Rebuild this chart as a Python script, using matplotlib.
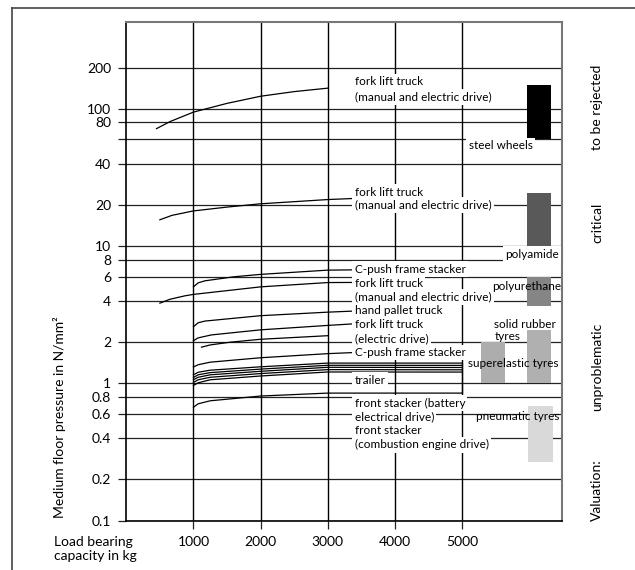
import matplotlib.pyplot as plt
from matplotlib.lines import Line2D
from matplotlib.ticker import FixedLocator, NullLocator

plt.rcParams['font.family'] = ['Lato', 'DejaVu Sans']

# axis ticks
y_ticks = [0.1, 0.2, 0.4, 0.6, 0.8, 1, 2, 4, 6, 8, 10, 20, 40, 60, 80, 100, 200]
y_labels = ['0.1', '0.2', '0.4', '0.6', '0.8', '1', '2', '4', '6', '8',
            '10', '20', '40', '', '80', '100', '200']
x_ticks = [1000, 2000, 3000, 4000, 5000]
x_labels = ['1000', '2000', '3000', '4000', '5000']

# curves: load bearing capacity (kg) -> floor pressure (N/mm2)
fork_top_x = [450, 650, 1000, 1500, 2000, 2500, 3000]
fork_top_y = [72, 81, 95, 110, 124, 134, 142]
fork_mid_x = [500, 680, 1000, 1500, 2000, 3000, 3380]
fork_mid_y = [15.6, 16.8, 18.1, 19.3, 20.4, 21.9, 22.3]
cpush_x = [1000, 1070, 1170, 1600, 2000, 3000, 3380]
cpush_y = [5.06, 5.41, 5.60, 5.99, 6.24, 6.70, 6.73]
fork_low_x = [500, 650, 870, 1000, 2000, 3000, 3380]
fork_low_y = [3.85, 4.11, 4.35, 4.46, 5.06, 5.44, 5.45]
pallet_x = [1000, 1070, 1170, 2000, 3000, 3380]
pallet_y = [2.59, 2.77, 2.85, 3.12, 3.31, 3.37]
fork_el_x = [1000, 1070, 1270, 2000, 3000, 3380]
fork_el_y = [2.05, 2.15, 2.26, 2.46, 2.65, 2.72]
fork_el2_x = [1120, 1250, 1550, 2000, 3000]
fork_el2_y = [1.84, 1.91, 2.00, 2.10, 2.23]
cpush2_x = [1000, 1070, 1250, 2000, 3000, 3380]
cpush2_y = [1.32, 1.37, 1.43, 1.54, 1.65, 1.68]
trailer_x = [1000, 1070, 1250, 2000, 3000, 5000]
trailer_y = [
    [1.157, 1.207, 1.25, 1.323, 1.408, 1.408],
    [1.106, 1.157, 1.20, 1.273, 1.357, 1.355],
    [1.064, 1.110, 1.157, 1.227, 1.312, 1.308],
    [1.017, 1.064, 1.11, 1.181, 1.262, 1.258],
    [0.967, 1.012, 1.064, 1.134, 1.213, 1.211],
]
front_x = [1000, 1070, 1250, 2000, 3000, 5000]
front_y = [0.671, 0.711, 0.748, 0.81, 0.851, 0.851]

# curve labels
label_x = 3400
top_labels = ['fork lift truck', '(manual and electric drive)',
              'fork lift truck', '(manual and electric drive)']
top_labels_y = [158, 123, 24.8, 19.9]
stack_labels = ['C-push frame stacker', 'fork lift truck', '(manual and electric drive)',
                'hand pallet truck', 'fork lift truck', '(electric drive)',
                'C-push frame stacker', 'trailer', 'front stacker (battery',
                'electrical drive)', 'front stacker', '(combustion engine drive)']
stack_labels_y = [6.81, 5.35, 4.28, 3.38, 2.69, 2.12, 1.68, 1.06, 0.72, 0.575, 0.452, 0.358]

# wheel material bars
bar_names = ['steel', 'polyamide', 'polyurethane', 'solid rubber', 'superelastic', 'pneumatic']
bar_left = [5970, 5970, 5970, 5970, 5290, 5990]
bar_right = [6330, 6330, 6330, 6330, 5640, 6350]
bar_low = [60, 10, 3.64, 1.0, 1.0, 0.27]
bar_high = [149, 24.6, 6.0, 2.46, 2.0, 0.68]
bar_colors = ['#000000', '#595959', '#858585', '#b0b0b0', '#adadad', '#d9d9d9']

fig = plt.figure(figsize=(6.35, 5.70), dpi=100)
ax = fig.add_axes([126.3 / 635, 1 - 520.7 / 570, (562 - 126.3) / 635, (520.7 - 22) / 570])
ax.set_yscale('log')
ax.set_xlim(0, 6490)
ax.set_ylim(0.1, 431)

# grid
for v in y_ticks:
    ax.axhline(v, color='#222222', lw=0.9, zorder=1)
for v in x_ticks:
    ax.axvline(v, color='black', lw=1.0, zorder=1)

ax.yaxis.set_major_locator(FixedLocator(y_ticks))
ax.yaxis.set_minor_locator(NullLocator())
ax.set_yticklabels(y_labels)
ax.set_xticks(x_ticks)
ax.set_xticklabels(x_labels)
ax.tick_params(axis='both', length=6, width=0.9, color='#222222', labelsize=10, pad=5)

for side in ['left', 'bottom']:
    ax.spines[side].set_color('black')
    ax.spines[side].set_linewidth(1.2)
for side in ['top', 'right']:
    ax.spines[side].set_color('#777777')
    ax.spines[side].set_linewidth(1.5)

# curves
line_kw = dict(color='black', lw=0.9, zorder=2)
ax.plot(fork_top_x, fork_top_y, **line_kw)
ax.plot(fork_mid_x, fork_mid_y, **line_kw)
ax.plot(cpush_x, cpush_y, **line_kw)
ax.plot(fork_low_x, fork_low_y, **line_kw)
ax.plot(pallet_x, pallet_y, **line_kw)
ax.plot(fork_el_x, fork_el_y, **line_kw)
ax.plot(fork_el2_x, fork_el2_y, **line_kw)
ax.plot(cpush2_x, cpush2_y, **line_kw)
for ty in trailer_y:
    ax.plot(trailer_x, ty, **line_kw)
ax.plot(front_x, front_y, **line_kw)
ax.plot([trailer_x[-1], front_x[-1]], [trailer_y[0][-1], front_y[-1]], **line_kw)

# bars
for l, r, lo, hi, c in zip(bar_left, bar_right, bar_low, bar_high, bar_colors):
    ax.bar(l, hi - lo, width=r - l, bottom=lo, align='edge', color=c, lw=0, zorder=3)

# labels with white background
box = dict(boxstyle='square,pad=0.2', fc='white', ec='none')
for t, y in zip(top_labels + stack_labels, top_labels_y + stack_labels_y):
    ax.text(label_x, y, t, fontsize=8.5, ha='left', va='center', bbox=box, zorder=4)

ax.text(5577, 53.8, 'steel wheels', fontsize=8.5, ha='center', va='center', bbox=box, zorder=4)
ax.text(6440, 8.76, 'polyamide', fontsize=8.5, ha='right', va='center', bbox=box, zorder=4)
ax.text(5970, 5.09, 'polyurethane', fontsize=8.5, ha='center', va='center', zorder=5)
ax.text(5480, 2.42, 'solid rubber\ntyres', fontsize=8.5, ha='left', va='center',
        linespacing=1.1, zorder=5)
ax.text(5763, 1.39, 'superelastic tyres', fontsize=8.5, ha='center', va='center', zorder=5)
ax.text(5823, 0.575, 'pneumatic tyres', fontsize=8.5, ha='center', va='center', zorder=5)

# axis titles and valuation
fig.text(60 / 635, 1 - 417.5 / 570, 'Medium floor pressure in N/mm²', rotation=90,
         ha='center', va='center', fontsize=10)
fig.text(54 / 635, 1 - 548.5 / 570, 'Load bearing\ncapacity in kg', ha='left', va='center',
         fontsize=10, linespacing=1.2)
valuation = ['to be rejected', 'critical', 'unproblematic', 'Valuation:']
valuation_y = [107.5, 223.3, 366.7, 490.3]
for t, py in zip(valuation, valuation_y):
    fig.text(597 / 635, 1 - py / 570, t, rotation=90, ha='center', va='center', fontsize=10)

# outer frame (cropped at right and bottom)
fig.add_artist(Line2D([11.5 / 635, 11.5 / 635], [0, 1 - 7.5 / 570], color='#444444', lw=1.2))
fig.add_artist(Line2D([11.5 / 635, 1], [1 - 7.5 / 570, 1 - 7.5 / 570], color='#444444', lw=1.2))

fig.savefig('out.png', dpi=100)
